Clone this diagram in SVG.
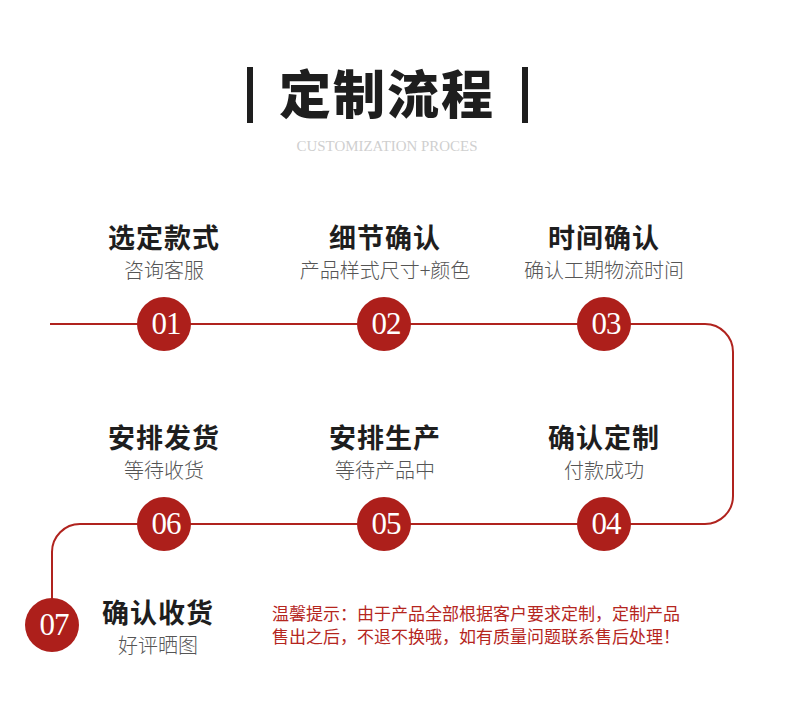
<svg xmlns="http://www.w3.org/2000/svg" width="790" height="724" viewBox="0 0 790 724">
<style>
.cjk{font-family:"Noto Sans CJK SC","Noto Sans",sans-serif}
.t{font-size:27px;font-weight:700;fill:#1e1e1e;text-anchor:middle;letter-spacing:1px}
.s{font-size:20px;font-weight:300;fill:#555;text-anchor:middle}
.dot{fill:#ad1f1b}
.num{font-family:"Liberation Serif","DejaVu Serif",serif;font-size:31px;fill:#fff;text-anchor:middle;letter-spacing:-1px}
.note{font-size:17px;fill:#b5261e}
</style>
<rect width="790" height="724" fill="#fff"/>
<g id="header">
<rect x="247" y="67" width="6" height="56" fill="#1e1e1e"/>
<rect x="522" y="67" width="6" height="56" fill="#1e1e1e"/>
<text x="387" y="114" class="cjk" font-size="52" font-weight="900" fill="#1e1e1e" text-anchor="middle" letter-spacing="2">定制流程</text>
<text x="387" y="151" font-family="Liberation Serif,serif" font-size="14" fill="#cfcfcf" text-anchor="middle" textLength="181" lengthAdjust="spacingAndGlyphs">CUSTOMIZATION PROCES</text>
</g>
<g id="connectors">
<path d="M50,324 H705 A28,28 0 0 1 733,352 V496 A28,28 0 0 1 705,524 H80 A28,28 0 0 0 52,552 V605" fill="none" stroke="#b0231e" stroke-width="2"/>
</g>
<g id="step01">
<text x="164" y="248" class="cjk t">选定款式</text>
<text x="164" y="278" class="cjk s">咨询客服</text>
<circle cx="164" cy="324" r="27" class="dot"/>
<text x="166" y="334" class="num">01</text>
</g>
<g id="step02">
<text x="385" y="248" class="cjk t">细节确认</text>
<text x="385" y="278" class="cjk s">产品样式尺寸+颜色</text>
<circle cx="384" cy="324" r="27" class="dot"/>
<text x="386" y="334" class="num">02</text>
</g>
<g id="step03">
<text x="604" y="248" class="cjk t">时间确认</text>
<text x="604" y="278" class="cjk s">确认工期物流时间</text>
<circle cx="604" cy="324" r="27" class="dot"/>
<text x="606" y="334" class="num">03</text>
</g>
<g id="step04">
<text x="604" y="448" class="cjk t">确认定制</text>
<text x="604" y="478" class="cjk s">付款成功</text>
<circle cx="604" cy="524" r="27" class="dot"/>
<text x="606" y="534" class="num">04</text>
</g>
<g id="step05">
<text x="385" y="448" class="cjk t">安排生产</text>
<text x="385" y="478" class="cjk s">等待产品中</text>
<circle cx="384" cy="524" r="27" class="dot"/>
<text x="386" y="534" class="num">05</text>
</g>
<g id="step06">
<text x="164" y="448" class="cjk t">安排发货</text>
<text x="164" y="478" class="cjk s">等待收货</text>
<circle cx="164" cy="524" r="27" class="dot"/>
<text x="166" y="534" class="num">06</text>
</g>
<g id="step07">
<text x="158" y="623" class="cjk t">确认收货</text>
<text x="158" y="653" class="cjk s">好评晒图</text>
<circle cx="52" cy="625" r="27" class="dot"/>
<text x="54" y="635" class="num">07</text>
</g>
<g id="note">
<text x="272" y="620" class="cjk note">温馨提示：由于产品全部根据客户要求定制，定制产品</text>
<text x="272" y="643" class="cjk note">售出之后，不退不换哦，如有质量问题联系售后处理！</text>
</g>
</svg>
